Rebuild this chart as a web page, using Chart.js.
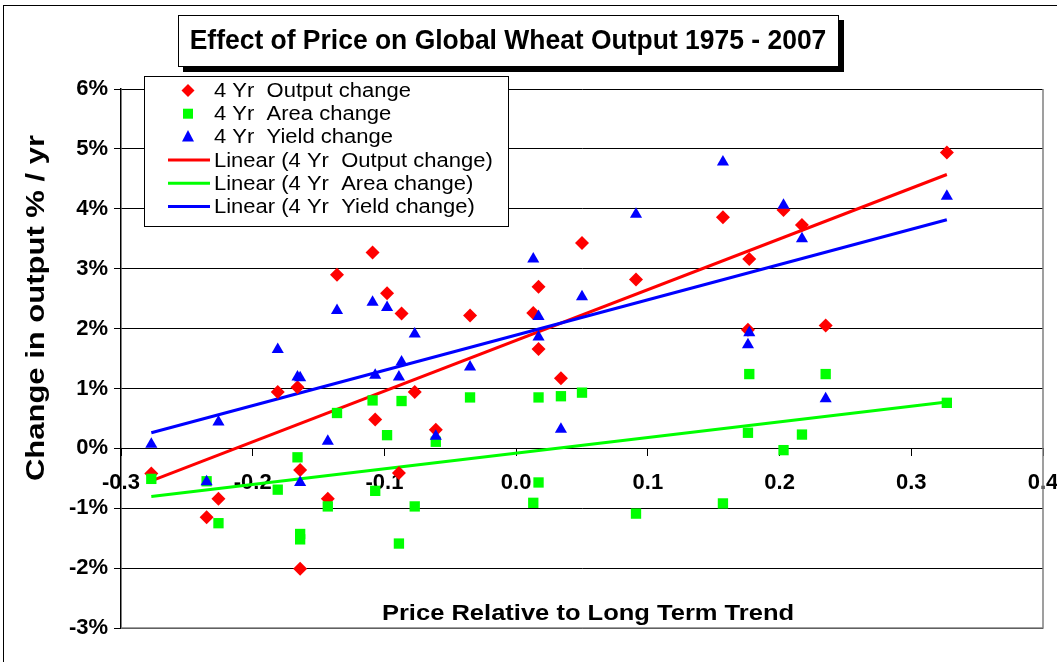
<!DOCTYPE html>
<html lang="en">
<head>
<meta charset="UTF-8">
<title>Effect of Price on Global Wheat Output 1975 - 2007</title>
<script src="https://cdn.jsdelivr.net/npm/chart.js"></script>
<style>
  html, body { margin: 0; padding: 0; background: #fff; }
</style>
</head>
<body>
<canvas id="wheatChart" width="1057" height="662"></canvas>

<script>
// price relative to long term trend (x)
const priceDev = [-0.277, -0.235, -0.226, -0.181, -0.166, -0.164, -0.164, -0.143, -0.136, -0.109,
                  -0.107, -0.098, -0.089, -0.087, -0.077, -0.061, -0.035, 0.013, 0.017, 0.017,
                  0.034, 0.050, 0.091, 0.157, 0.176, 0.177, 0.203, 0.217, 0.235, 0.327];
// 4 yr changes, % per year
const outputChange = [-0.42, -1.15, -0.84, 0.94, 1.02, -0.36, -2.01, -0.84, 2.90, 3.27,
                      0.48, 2.59, -0.41, 2.25, 0.94, 0.31, 2.22, 2.26, 2.70, 1.66,
                      1.17, 3.43, 2.82, 3.86, 1.98, 3.16, 3.98, 3.73, 2.05, 4.94];
const areaChange = [-0.51, -0.55, -1.25, -0.69, -0.15, -1.52, -1.43, -0.97, 0.59, 0.80,
                    -0.71, 0.22, -1.59, 0.79, -0.97, 0.11, 0.85, -0.91, 0.85, -0.57,
                    0.87, 0.93, -1.09, -0.92, 0.26, 1.24, -0.03, 0.23, 1.24, 0.76];
const yieldChange = [0.07, -0.56, 0.44, 1.65, 1.19, 1.18, -0.57, 0.12, 2.30, 2.44,
                     1.22, 2.35, 1.19, 1.44, 1.91, 0.20, 1.36, 3.16, 1.86, 2.20,
                     0.32, 2.53, 3.91, 4.78, 1.73, 1.93, 4.06, 3.50, 0.83, 4.21];

const seriesNames = ['4 Yr  Output change', '4 Yr  Area change', '4 Yr  Yield change'];
const xTicks = [-0.3, -0.2, -0.1, 0.0, 0.1, 0.2, 0.3, 0.4];
const yTicks = [-3, -2, -1, 0, 1, 2, 3, 4, 5, 6];

const RED = '#ff0000', GREEN = '#00ff00', BLUE = '#0000ff';
const FONT = "'Liberation Sans', Arial, sans-serif";

function toPoints(ys) {
  return priceDev.map((x, i) => ({ x: x, y: ys[i] }));
}

// least squares line over the data range, like the Excel trendline
function trend(ys) {
  const n = priceDev.length;
  let sx = 0, sy = 0, sxx = 0, sxy = 0;
  for (let i = 0; i < n; i++) {
    sx += priceDev[i]; sy += ys[i];
    sxx += priceDev[i] * priceDev[i]; sxy += priceDev[i] * ys[i];
  }
  const b = (n * sxy - sx * sy) / (n * sxx - sx * sx);
  const a = (sy - b * sx) / n;
  const lo = Math.min(...priceDev), hi = Math.max(...priceDev);
  return [{ x: lo, y: a + b * lo }, { x: hi, y: a + b * hi }];
}

function stretchText(c, text, x, y, sx) {
  c.save();
  c.translate(x, y);
  c.scale(sx, 1);
  c.fillText(text, 0, 0);
  c.restore();
}

function drawMarker(c, style, x, y, color) {
  c.fillStyle = color;
  c.beginPath();
  if (style === 'rectRot') {
    c.moveTo(x, y - 6.5); c.lineTo(x + 6.5, y); c.lineTo(x, y + 6.5); c.lineTo(x - 6.5, y);
  } else if (style === 'rect') {
    c.rect(x - 5, y - 5, 10, 10);
  } else {
    c.moveTo(x, y - 7); c.lineTo(x + 6, y + 4.5); c.lineTo(x - 6, y + 4.5);
  }
  c.closePath();
  c.fill();
}

const decor = {
  id: 'decor',
  beforeDraw(chart) {
    const c = chart.ctx;
    c.save();
    c.fillStyle = '#fff';
    c.fillRect(0, 0, chart.width, chart.height);
    c.restore();
  },
  beforeDatasetsDraw(chart) {
    const c = chart.ctx, a = chart.chartArea;
    c.save();
    c.strokeStyle = '#808080';
    c.lineWidth = 1.5;
    c.beginPath();
    c.moveTo(a.right, a.top); c.lineTo(a.right, a.bottom); c.lineTo(a.left, a.bottom);
    c.stroke();
    c.restore();
  },
  afterDraw(chart) {
    const c = chart.ctx;
    c.save();

    // outer frame
    c.strokeStyle = '#000';
    c.lineWidth = 1;
    c.strokeRect(3.5, 5.5, chart.width, chart.height);

    // title box with shadow
    c.fillStyle = '#000';
    c.fillRect(183, 20, 661, 52);
    c.fillStyle = '#fff';
    c.fillRect(178, 15, 660, 51);
    c.strokeStyle = '#000';
    c.strokeRect(178.5, 15.5, 660, 51);
    c.fillStyle = '#000';
    c.font = 'bold 27px ' + FONT;
    c.textAlign = 'center';
    c.textBaseline = 'middle';
    stretchText(c, 'Effect of Price on Global Wheat Output 1975 - 2007', 508, 42, 0.98);

    // axis titles
    c.font = 'bold 22px ' + FONT;
    stretchText(c, 'Price Relative to Long Term Trend', 588, 614, 1.16);
    c.save();
    c.translate(37, 308);
    c.rotate(-Math.PI / 2);
    c.font = 'bold 25px ' + FONT;
    stretchText(c, 'Change in output % / yr', 0, 0, 1.24);
    c.restore();

    // legend
    const lx = 144, ly = 76, lw = 364, lh = 150;
    c.fillStyle = '#fff';
    c.fillRect(lx, ly, lw, lh);
    c.strokeStyle = '#000';
    c.lineWidth = 1;
    c.strokeRect(lx + 0.5, ly + 0.5, lw, lh);
    c.font = '20px ' + FONT;
    c.textAlign = 'left';
    chart.data.datasets.forEach((ds, i) => {
      const y = 90.5 + i * 23.2;
      if (ds.showLine) {
        c.strokeStyle = ds.borderColor;
        c.lineWidth = 3;
        c.beginPath(); c.moveTo(168, y); c.lineTo(210, y); c.stroke();
      } else {
        drawMarker(c, ds.pointStyle, 188, y, ds.backgroundColor);
      }
      c.fillStyle = '#000';
      stretchText(c, ds.label, 214, y + 1, 1.1);
    });
    c.restore();
  }
};

const ctx = document.getElementById('wheatChart').getContext('2d');
const wheatChart = new Chart(ctx, {
  type: 'scatter',
  data: {
    datasets: [
      { label: seriesNames[0], data: toPoints(outputChange), pointStyle: 'rectRot', pointRadius: 7,
        backgroundColor: RED, borderColor: RED, borderWidth: 0, order: 3 },
      { label: seriesNames[1], data: toPoints(areaChange), pointStyle: 'rect', pointRadius: 7.3,
        backgroundColor: GREEN, borderColor: GREEN, borderWidth: 0, order: 2 },
      { label: seriesNames[2], data: toPoints(yieldChange), pointStyle: 'triangle', pointRadius: 7,
        backgroundColor: BLUE, borderColor: BLUE, borderWidth: 0, order: 1 },
      { label: 'Linear (' + seriesNames[0] + ')', type: 'line', data: trend(outputChange), showLine: true,
        borderColor: RED, borderWidth: 3, pointRadius: 0, order: 6 },
      { label: 'Linear (' + seriesNames[1] + ')', type: 'line', data: trend(areaChange), showLine: true,
        borderColor: GREEN, borderWidth: 3, pointRadius: 0, order: 5 },
      { label: 'Linear (' + seriesNames[2] + ')', type: 'line', data: trend(yieldChange), showLine: true,
        borderColor: BLUE, borderWidth: 3, pointRadius: 0, order: 4 }
    ]
  },
  options: {
    responsive: false,
    animation: false,
    layout: { padding: { top: 89, right: 14, bottom: 34, left: 0 } },
    plugins: {
      legend: { display: false },
      tooltip: { enabled: false }
    },
    scales: {
      x: {
        type: 'linear',
        min: xTicks[0],
        max: xTicks[xTicks.length - 1],
        position: { y: 0 },
        afterBuildTicks: (s) => { s.ticks = xTicks.map(v => ({ value: v })); },
        afterFit: (s) => { s.paddingLeft = 0; s.paddingRight = 0; },
        ticks: {
          callback: (v) => (Math.abs(v) < 1e-9 ? '0.0' : Number(v).toFixed(1)),
          color: '#000',
          font: { family: FONT, size: 22, weight: 'bold' },
          padding: 14,
          maxRotation: 0,
          autoSkip: false
        },
        grid: { drawOnChartArea: false, drawTicks: true, tickLength: 7, tickColor: '#000' },
        border: { color: '#000', width: 1 }
      },
      y: {
        min: yTicks[0],
        max: yTicks[yTicks.length - 1],
        afterBuildTicks: (s) => { s.ticks = yTicks.map(v => ({ value: v })); },
        afterFit: (s) => { s.width = 121; },
        ticks: {
          callback: (v) => v + '%',
          color: '#000',
          font: { family: FONT, size: 22, weight: 'bold' },
          padding: 6
        },
        grid: { color: '#000', lineWidth: 1, tickLength: 7, tickColor: '#000' },
        border: { color: '#000', width: 1.5 }
      }
    }
  },
  plugins: [decor]
});
</script>
</body>
</html>
